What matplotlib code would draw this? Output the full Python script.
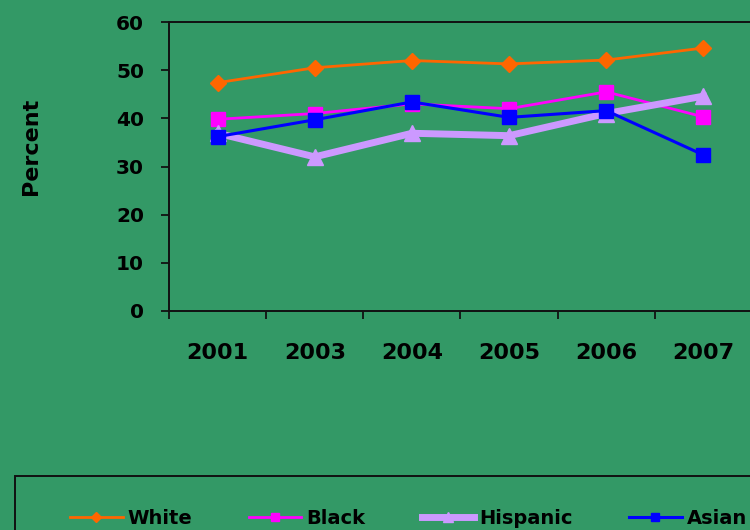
import matplotlib
matplotlib.use("Agg")
import matplotlib.pyplot as plt
from matplotlib.patches import Rectangle

years = ["2001", "2003", "2004", "2005", "2006", "2007"]
white = [47.4, 50.5, 52.0, 51.3, 52.1, 54.6]
black = [39.8, 41.0, 43.0, 42.0, 45.5, 40.3]
hispanic = [36.9, 32.0, 36.9, 36.4, 41.0, 44.6]
asian = [36.2, 39.7, 43.4, 40.2, 41.6, 32.4]

bg = "#339966"
plt.rcParams["font.family"] = ["DejaVu Sans"]
plt.rcParams["font.weight"] = "bold"

fig = plt.figure(figsize=(7.5, 5.3), dpi=100, facecolor=bg)
ax = fig.add_axes([169 / 750, 1 - 311 / 530, 583 / 750, 289 / 530])
ax.set_facecolor(bg)

x = range(len(years))
ax.plot(x, white, color="#FF6600", lw=2, marker="D", ms=8, label="White")
ax.plot(x, black, color="#FF00FF", lw=2, marker="s", ms=10, label="Black")
ax.plot(x, hispanic, color="#CC99FF", lw=5, marker="^", ms=11, label="Hispanic")
ax.plot(x, asian, color="#0000FF", lw=2.2, marker="s", ms=10, label="Asian")

ax.set_xlim(-0.5, len(years) - 0.5)
ax.set_ylim(0, 60)
ax.set_yticks(range(0, 61, 10))
ax.set_xticks(list(x))
ax.set_xticklabels(years, fontsize=16, fontweight="bold")
ax.set_xticks([i - 0.5 for i in range(len(years) + 1)], minor=True)
ax.tick_params(axis="x", which="major", length=0, pad=23)
ax.tick_params(axis="x", which="minor", length=6, width=1.3, color="#111111", direction="out")
ax.tick_params(axis="y", length=6, width=1.3, color="#111111", pad=12, labelsize=14.5)
for lab in ax.get_yticklabels():
    lab.set_fontweight("bold")
for sp in ax.spines.values():
    sp.set_color("#111111")
    sp.set_linewidth(1.4)

fig.text(31 / 750, 1 - 146 / 530, "Percent", rotation=90, ha="center", va="center",
         fontsize=16, fontweight="bold")

# legend frame runs off the bottom/right edge
fig.patches.append(Rectangle((15 / 750, -0.05), 1.0, (1 - 476 / 530) + 0.05,
                             transform=fig.transFigure, fill=False,
                             edgecolor="#111111", lw=1.4))
fig.legend(loc="center left", bbox_to_anchor=(70 / 750, 1 - 518 / 530), ncol=4,
           frameon=False, handlelength=2.7, handletextpad=0.26,
           columnspacing=2.9, borderpad=0, borderaxespad=0, markerscale=0.6,
           prop={"weight": "bold", "size": 14})

fig.savefig("out.png", dpi=100, facecolor=bg)
